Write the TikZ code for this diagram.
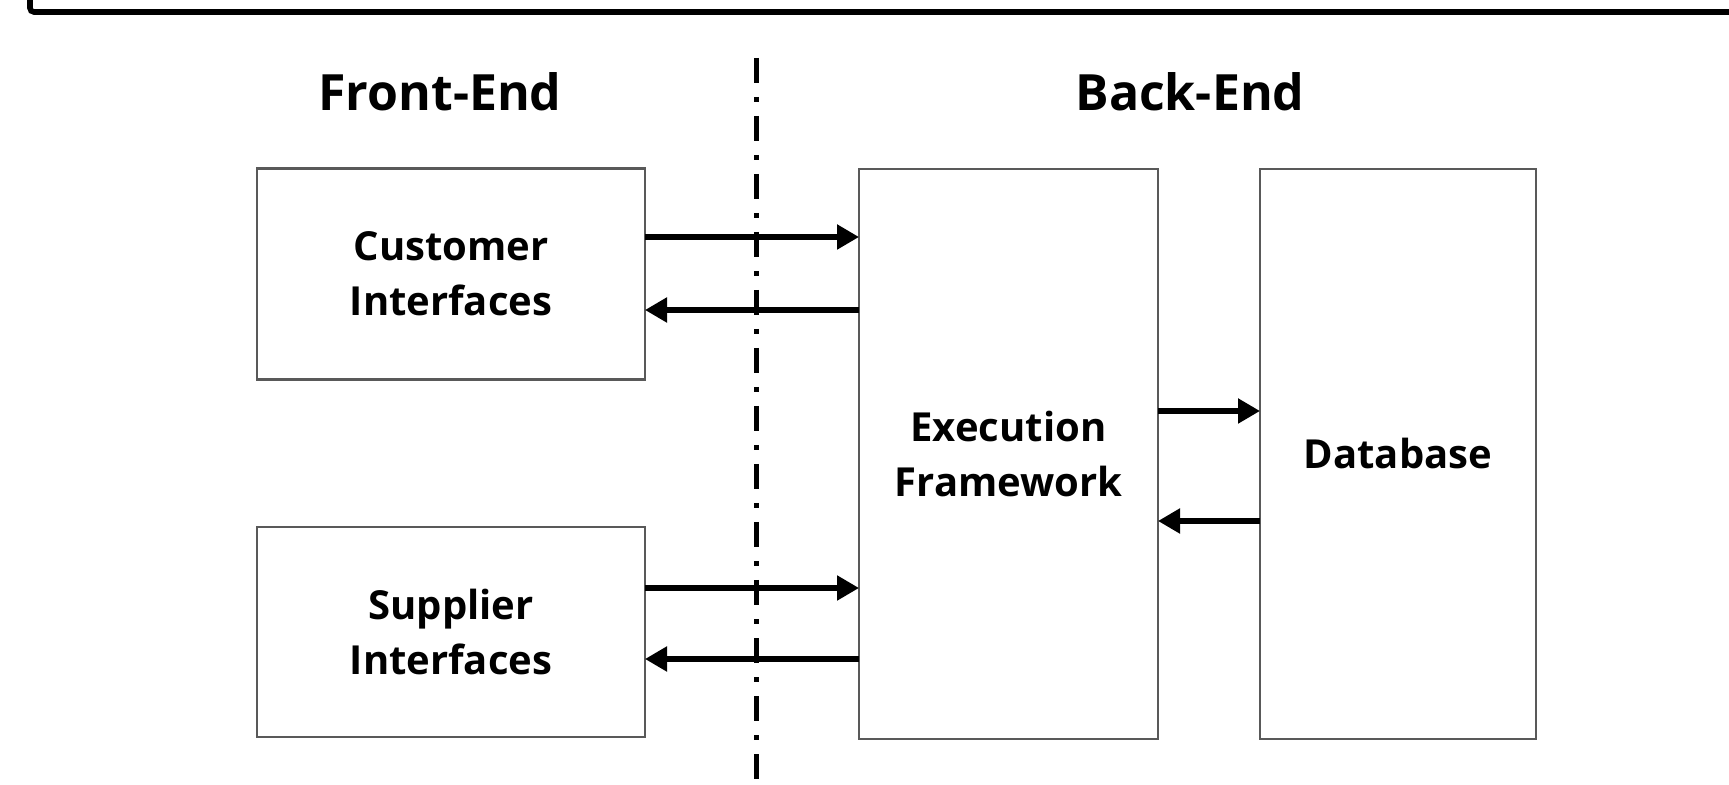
\documentclass[tikz,border=0pt]{standalone}
\usepackage{fontspec}
\setmainfont{Open Sans}
\usetikzlibrary{arrows.meta}
\begin{document}
\begin{tikzpicture}[x=0.5pt,y=-0.5pt,
  box/.style={draw=black!65,line width=1.4pt,outer sep=0pt,inner sep=0pt,align=center,
    font=\bfseries\fontsize{20}{27.5}\selectfont},
  head/.style={font=\bfseries\fontsize{25}{30}\selectfont,anchor=base,inner sep=0pt},
  arr/.style={line width=2.6pt,-{Triangle[length=11pt,width=12pt]}},
  sep/.style={line width=2.5pt,dash pattern=on 12.5pt off 7pt on 2.5pt off 7pt}]
\useasboundingbox (0,0) rectangle (1729,785);
\clip (0,0) rectangle (1729,785);
% outer frame (partially visible)
\draw[line width=2.8pt,rounded corners=2pt] (30,-30) -- (30,12) -- (1780,12);
% headings
\node[head] (fe) at (440,111) {Front-End};
\node[head] (be) at (1190,111) {Back-End};
% boxes
\node[box,minimum width=194pt,minimum height=105.5pt] (cust) at (451,274) {Customer\\Interfaces};
\node[box,minimum width=194pt,minimum height=105pt] (supp) at (451,632) {Supplier\\Interfaces};
\node[box,minimum width=149.5pt,minimum height=285pt] (exec) at (1008.5,454) {Execution\\Framework};
\node[box,minimum width=138pt,minimum height=285pt] (db) at (1398,454) {Database};
% separator
\coordinate (st) at (756,58);
\coordinate (en) at (756,800);
\draw[sep] (st) -- (en);
% arrows
\coordinate (a1) at (0,237);
\coordinate (a2) at (0,310);
\coordinate (a3) at (0,588);
\coordinate (a4) at (0,659);
\coordinate (a5) at (0,411);
\coordinate (a6) at (0,521);
\draw[arr] (cust.east |- a1) -- (exec.west |- a1);
\draw[arr] (exec.west |- a2) -- (cust.east |- a2);
\draw[arr] (supp.east |- a3) -- (exec.west |- a3);
\draw[arr] (exec.west |- a4) -- (supp.east |- a4);
\draw[arr] (exec.east |- a5) -- (db.west |- a5);
\draw[arr] (db.west |- a6) -- (exec.east |- a6);
\end{tikzpicture}
\end{document}
